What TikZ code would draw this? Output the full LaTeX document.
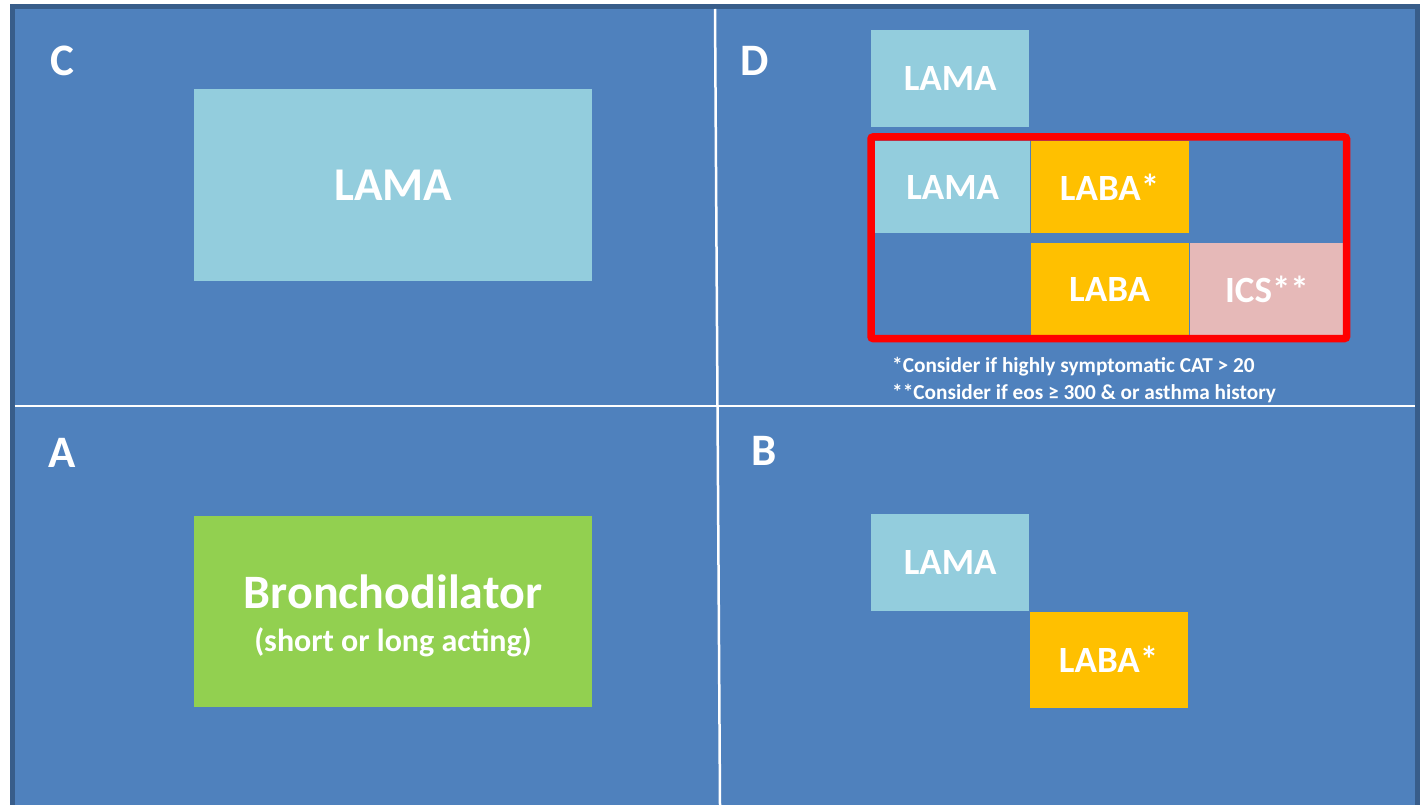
\documentclass[tikz,border=0pt]{standalone}
\usepackage{fontspec}
\setmainfont{Carlito}
\usepackage{tikz}
\usetikzlibrary{positioning}
\definecolor{quadblue}{HTML}{4F81BD}
\definecolor{frameblue}{HTML}{385D8A}
\definecolor{lamablue}{HTML}{93CDDD}
\definecolor{labaorange}{HTML}{FFC000}
\definecolor{icspink}{HTML}{E6B9B8}
\definecolor{bronchogreen}{HTML}{92D050}
\definecolor{alertred}{HTML}{FF0000}

\begin{document}
\begin{tikzpicture}[x=1pt,y=-1pt,
    cell/.style={inner sep=0pt,text=white,font=\fontsize{37}{40}\selectfont\bfseries},
    quadlabel/.style={anchor=base west,inner sep=0pt,text=white,font=\fontsize{45}{48}\selectfont\bfseries},
    note/.style={anchor=base west,inner sep=0pt,text=white,font=\fontsize{21.3}{25}\selectfont\bfseries}]
    \useasboundingbox (0,0) rectangle (1422,805);
    % background panel and grid
    \draw[line width=5pt,draw=frameblue,fill=quadblue] (12,6.5) rectangle (1417,815);
    \draw[white,line width=2.5pt] (715,9) -- (720,805);
    \draw[white,line width=2.5pt] (14.5,406) -- (1414.5,406);
    \node[quadlabel] (labC) at (50,76) {C};
    \node[quadlabel] (labD) at (740,76) {D};
    \node[quadlabel] (labA) at (48,467) {A};
    \node[quadlabel] (labB) at (751.5,465) {B};
    % group C
    \node[cell,fill=lamablue,anchor=north west,minimum width=398pt,minimum height=192pt,font=\fontsize{47}{50}\selectfont\bfseries] (lamaC) at (194,89) {LAMA};
    % group A
    \node[cell,fill=bronchogreen,anchor=north west,minimum width=398pt,minimum height=191pt] (bronchoA) at (194,516) {};
    \node[cell,anchor=base,font=\fontsize{48}{52}\selectfont\bfseries] (bronchoMain) at (393,608) {Bronchodilator};
    \node[cell,anchor=base,font=\fontsize{32}{36}\selectfont\bfseries] (bronchoSub) at (393,651) {(short or long acting)};
    % group D
    \node[cell,fill=lamablue,anchor=north west,minimum width=158pt,minimum height=97pt] (lamaD) at (871,30) {LAMA};
    \node[cell,fill=lamablue,anchor=north west,minimum width=155pt,minimum height=92pt] (lamaDual) at (875,141) {LAMA};
    \node[cell,fill=labaorange,right=0pt of lamaDual,minimum width=158pt,minimum height=92pt] (labaDual) {LABA*};
    \node[cell,fill=labaorange,below=9pt of labaDual,minimum width=158pt,minimum height=93pt] (labaTriple) {LABA};
    \node[cell,fill=icspink,right=1pt of labaTriple,minimum width=154pt,minimum height=93pt] (icsTriple) {ICS**};
    \draw[alertred,line width=7.5pt,rounded corners=2pt] (871,137) rectangle (1346.5,338.5);
    \node[note] (noteLaba) at (892,372) {*Consider if highly symptomatic CAT > 20};
    \node[note] (noteIcs) at (892,399) {**Consider if eos ≥ 300 \& or asthma history};
    % group B
    \node[cell,fill=lamablue,anchor=north west,minimum width=158pt,minimum height=97pt] (lamaB) at (871,514) {LAMA};
    \node[cell,fill=labaorange,anchor=north west,minimum width=158pt,minimum height=96pt] (labaB) at (lamaB.south east) {LABA*};
\end{tikzpicture}
\end{document}
